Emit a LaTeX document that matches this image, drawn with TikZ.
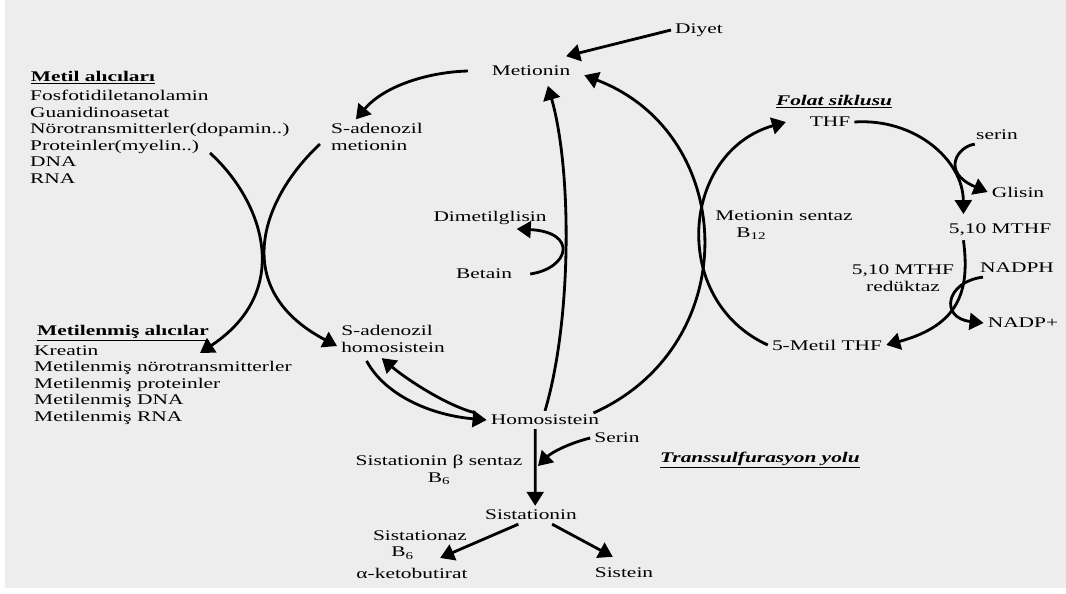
\documentclass[tikz,border=0pt]{standalone}
\usepackage{fontspec}
\setmainfont{Liberation Serif}[FakeStretch=1.45]
\usepackage{xcolor}
\usepackage{tikz}
\usetikzlibrary{arrows.meta}
\definecolor{scangray}{RGB}{237,237,237}

\begin{document}
\begin{tikzpicture}[x=0.025cm,y=-0.025cm,>={Triangle[length=10pt,width=12pt]},line width=2pt]
	  \tikzset{lbl/.style={inner sep=2pt,align=center,font=\fontsize{10.5}{11.8}\selectfont},
	  	liste/.style={lbl,align=left,anchor=north west},
	  	baslik/.style={lbl,font=\fontsize{10.5}{11.8}\selectfont\bfseries},
	  	yol/.style={draw,->},
	  }
	  \useasboundingbox (0,0) rectangle (1066,593);
	  \fill[scangray] (5,0) rectangle (1066,588);

	  %% left lists
	  \node [baslik] (metil) at (93,78) {\underline{Metil alıcıları}};
	  \node [liste] (metilliste) at (26,86) {Fosfotidiletanolamin\\Guanidinoasetat\\Nörotransmitterler(dopamin..)\\Proteinler(myelin..)\\DNA\\RNA};
	  \node [baslik] (metilenmis) at (123,333) {\underline{Metilenmiş alıcılar}};
	  \node [liste] (metilenmisliste) at (30,341) {Kreatin\\Metilenmiş nörotransmitterler\\Metilenmiş proteinler\\Metilenmiş DNA\\Metilenmiş RNA};

	  %% methionine cycle
	  \node [lbl] (diyet) at (699,30) {Diyet};
	  \node [lbl] (metionin) at (531,71) {Metionin};
	  \node [lbl,align=left] (sam) at (377,137) {S-adenozil\\metionin};
	  \node [lbl,align=left] (sah) at (393,339) {S-adenozil\\homosistein};
	  \node [lbl] (homosis) at (545,420) {Homosistein};
	  \node [lbl] (dimetil) at (490,218) {Dimetilglisin};
	  \node [lbl] (betain) at (484,274) {Betain};

	  %% folate cycle
	  \node [baslik] (folat) at (834,102) {\underline{\textit{Folat siklusu}}};
	  \node [lbl] (thf) at (830,122) {THF};
	  \node [lbl] (serin) at (997,135) {serin};
	  \node [lbl] (glisin) at (1018,192) {Glisin};
	  \node [lbl] (mthf) at (1000,230) {5,10 MTHF};
	  \node [lbl] (reduktaz) at (903,278) {5,10 MTHF\\redüktaz};
	  \node [lbl] (nadph) at (1017,268) {NADPH};
	  \node [lbl] (nadp) at (1023,323) {NADP+};
	  \node [lbl] (metilthf) at (827,345) {5-Metil THF};
	  \node [lbl,align=left] (msentaz) at (784,225) {Metionin sentaz\\\hspace*{15pt}B\textsubscript{12}};

	  %% transsulfuration
	  \node [lbl] (serin2) at (617,438) {Serin};
	  \node [lbl] (cbs) at (439,470) {Sistationin β sentaz\\B\textsubscript{6}};
	  \node [baslik] (trans) at (760,460) {\underline{\textit{Transsulfurasyon yolu}}};
	  \node [lbl] (sistationin) at (531,515) {Sistationin};
	  \node [lbl,align=left] (sistationaz) at (420,545) {Sistationaz\\\hspace*{13pt}B\textsubscript{6}};
	  \node [lbl] (keto) at (412,573) {α-ketobutirat};
	  \node [lbl] (sistein) at (624,573) {Sistein};

	  \coordinate (protend) at (210,153);
	  \coordinate (metilenmisuc) at (200,353);
	  \coordinate (cbsin) at (538,466);

	  %% paths
	  \path[->] (diyet.west) edge ([xshift=-6pt,yshift=4pt]metionin.north east)
	  ([xshift=-7pt]homosis.south) edge ([xshift=3pt]sistationin.north)
	  ([xshift=-9pt]sistationin.south) edge ([xshift=20pt,yshift=4pt]keto.north)
	  ([xshift=15pt]sistationin.south) edge ([xshift=-8pt,yshift=5pt]sistein.north)
	  ;
	  \draw[yol] ([xshift=-14pt]metionin.west) .. controls (430,72) and (385,85) .. ([xshift=-15pt]sam.north);
	  \draw[yol] (protend) .. controls (262,200) and (295,290) .. (metilenmisuc);
	  \draw[yol] ([xshift=-5pt,yshift=-5pt]sam.west) .. controls (260,200) and (230,290) .. ([yshift=-5pt]sah.west);
	  \draw[yol] ([xshift=21pt,yshift=-3pt]sah.south west) .. controls (385,395) and (430,415) .. (homosis.west);
	  \draw[yol] ([xshift=-8pt,yshift=5pt]homosis.west) .. controls (445,405) and (405,378) .. ([xshift=-8pt,yshift=-1pt]sah.south);
	  \draw[yol] (homosis.north) .. controls (572,320) and (572,170) .. ([xshift=12pt,yshift=-4pt]metionin.south);
	  \draw[yol] ([xshift=10pt]betain.east) .. controls (570,268) and (578,232) .. ([xshift=19pt]dimetil.south);
	  \draw[yol] ([xshift=-7pt,yshift=5pt]homosis.east) .. controls (745,345) and (738,134) .. ([xshift=7pt,yshift=-3pt]metionin.east);
	  \draw[yol] (metilthf.west) .. controls (669,300) and (681,152) .. ([xshift=-14pt]thf.west);
	  \draw[yol] (thf.east) .. controls (915,118) and (963,160) .. ([xshift=-26pt,yshift=4pt]mthf.north);
	  \draw[yol] ([xshift=2pt]serin.south west) .. controls (958,146) and (940,172) .. (glisin.west);
	  \draw[yol] ([xshift=-26pt]mthf.south) .. controls (970,290) and (960,325) .. (metilthf.east);
	  \draw[yol] ([xshift=5pt]nadph.south west) .. controls (945,282) and (940,318) .. (nadp.west);
	  \draw[yol] (serin2.west) .. controls (570,443) and (552,452) .. (cbsin);
\end{tikzpicture}
\end{document}
